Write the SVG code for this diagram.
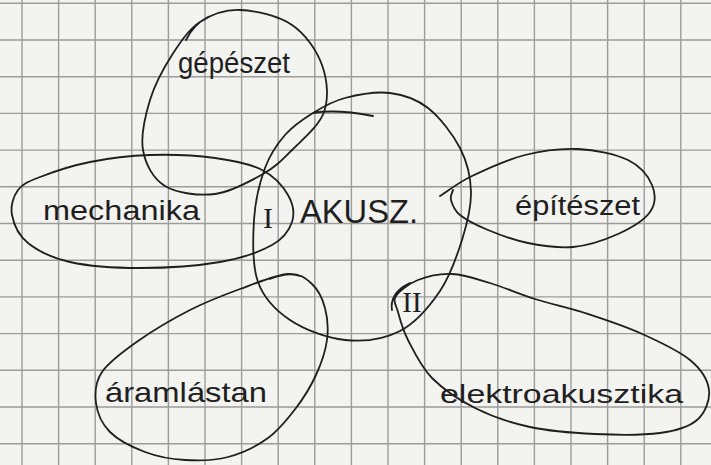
<svg xmlns="http://www.w3.org/2000/svg" width="711" height="465" viewBox="0 0 711 465">
<style>
.ink{fill:none;stroke:#1f1f1f;stroke-width:1.8;stroke-linecap:round;stroke-linejoin:round}
.grid{fill:none;stroke:#9c9c9a;stroke-width:1.4}
.hw{font-family:"Liberation Sans","DejaVu Sans",sans-serif;fill:#1f1f1f}
.rn{font-family:"Liberation Serif","DejaVu Serif",serif;fill:#1f1f1f;text-anchor:middle}
</style>
<rect x="0" y="0" width="711" height="465" fill="#f3f3f0"/>
<g id="grid">
<path class="grid" d="M22,0V465M58.6,0V465M95.2,0V465M131.8,0V465M168.4,0V465M205,0V465M241.6,0V465M278.2,0V465M314.8,0V465M351.4,0V465M388,0V465M424.6,0V465M461.2,0V465M497.8,0V465M534.4,0V465M571,0V465M607.6,0V465M644.2,0V465M680.8,0V465
M0,3.3H711M0,40H711M0,76.7H711M0,113.4H711M0,150.1H711M0,186.8H711M0,223.5H711M0,260.2H711M0,296.9H711M0,333.6H711M0,370.3H711M0,407H711M0,443.7H711"/>
</g>
<g id="node-gepeszet">
<path class="ink" d="M200,22 C211.3,14.5 224.7,9.5 240,10 C255.3,10.5 278.3,15.8 292,25 C305.7,34.2 316.7,50.5 322,65 C327.3,79.5 329,97.8 324,112 C319,126.2 302.2,139.7 292,150 C281.8,160.3 275.8,166.7 263,174 C250.2,181.3 231.3,192 215,194 C198.7,196 177,193.3 165,186 C153,178.7 145.5,164.3 143,150 C140.5,135.7 145.2,115.8 150,100 C154.8,84.2 163.7,68 172,55 C180.3,42 188.7,29.5 200,22 M186,40 C191,30 198,22 208,17"/>
<text class="hw" x="178" y="73" font-size="30" textLength="112" lengthAdjust="spacingAndGlyphs">gépészet</text>
</g>
<g id="node-mechanika">
<path class="ink" d="M40,177 C52,172.3 71.7,165.7 90,162 C108.3,158.3 129.2,155.7 150,155 C170.8,154.3 196.3,155.5 215,158 C233.7,160.5 249.8,163.8 262,170 C274.2,176.2 283,186.3 288,195 C293,203.7 294.7,213.7 292,222 C289.3,230.3 284,238.3 272,245 C260,251.7 242,258.2 220,262 C198,265.8 165,268 140,268 C115,268 88.7,266.2 70,262 C51.3,257.8 37.7,250.8 28,243 C18.3,235.2 13.7,223.8 12,215 C10.3,206.2 13.3,196.3 18,190 C22.7,183.7 28,181.7 40,177 Z"/>
<text class="hw" x="43" y="220" font-size="27" textLength="157" lengthAdjust="spacingAndGlyphs">mechanika</text>
</g>
<g id="node-akusz">
<path class="ink" d="M313,113 C303,119.2 293,125.8 285,135 C277,144.2 270.2,153.8 265,168 C259.8,182.2 255.2,201 254,220 C252.8,239 252,265.3 258,282 C264,298.7 275.5,310.3 290,320 C304.5,329.7 326.7,338.2 345,340 C363.3,341.8 384.2,339.2 400,331 C415.8,322.8 429.7,306.2 440,291 C450.3,275.8 456.8,256.5 462,240 C467.2,223.5 471.3,207.3 471,192 C470.7,176.7 467.2,162 460,148 C452.8,134 439.7,117.2 428,108 C416.3,98.8 403.8,94.7 390,93 C376.2,91.3 357.8,94.7 345,98 C332.2,101.3 323,106.8 313,113 M313,113 C330,110 352,112 373,116"/>
<text class="hw" x="300" y="223" font-size="33" textLength="118" lengthAdjust="spacingAndGlyphs">AKUSZ.</text>
<text class="rn" x="268" y="228" font-size="30">I</text>
<text class="rn" x="412" y="312" font-size="29">II</text>
</g>
<g id="node-epiteszet">
<path class="ink" d="M440,196 C445.3,192.7 457.8,182.8 472,176 C486.2,169.2 507.3,159.5 525,155 C542.7,150.5 560.8,148.2 578,149 C595.2,149.8 615.7,154 628,160 C640.3,166 648.3,176.3 652,185 C655.7,193.7 655.7,203.8 650,212 C644.3,220.2 630.8,228.2 618,234 C605.2,239.8 588,245.5 573,247 C558,248.5 542.2,245.8 528,243 C513.8,240.2 499.3,234.7 488,230 C476.7,225.3 466.2,220 460,215 C453.8,210 452.2,204.2 451,200 C449.8,195.8 452.7,191.7 453,190"/>
<text class="hw" x="515" y="215" font-size="27" textLength="125" lengthAdjust="spacingAndGlyphs">építészet</text>
</g>
<g id="node-aramlastan">
<path class="ink" d="M288,274 C300,273.2 305.8,278.3 312,284 C318.2,289.7 322.5,298.7 325,308 C327.5,317.3 328.5,328.8 327,340 C325.5,351.2 321.2,363.7 316,375 C310.8,386.3 304,397.5 296,408 C288,418.5 279.3,429.8 268,438 C256.7,446.2 241.8,453.3 228,457 C214.2,460.7 198.8,460.8 185,460 C171.2,459.2 157.5,456.7 145,452 C132.5,447.3 118.2,440.2 110,432 C101.8,423.8 97.3,413 96,403 C94.7,393 95,382.3 102,372 C109,361.7 123.3,351.3 138,341 C152.7,330.7 173,318.7 190,310 C207,301.3 223.7,295 240,289 C256.3,283 276,274.8 288,274 M270,279 C280,275 292,273 300,276"/>
<text class="hw" x="105" y="402" font-size="28" textLength="162" lengthAdjust="spacingAndGlyphs">áramlástan</text>
</g>
<g id="node-elektroakusztika">
<path class="ink" d="M396,296 C399.3,290.7 408.7,283.7 418,280 C427.3,276.3 440,273.5 452,274 C464,274.5 476.2,278.8 490,283 C503.8,287.2 519.2,294 535,299 C550.8,304 567.5,307.3 585,313 C602.5,318.7 622.5,325.2 640,333 C657.5,340.8 678.5,350.5 690,360 C701.5,369.5 707.8,380 709,390 C710.2,400 705.2,412.8 697,420 C688.8,427.2 677,430.7 660,433 C643,435.3 616.7,435 595,434 C573.3,433 550,431.3 530,427 C510,422.7 491.3,416.2 475,408 C458.7,399.8 443.2,389.3 432,378 C420.8,366.7 413.7,351 408,340 C402.3,329 400,319.3 398,312 C396,304.7 392.7,301.3 396,296 M392,310 C390,298 398,288 410,283"/>
<text class="hw" x="440" y="403" font-size="26" textLength="243" lengthAdjust="spacingAndGlyphs">elektroakusztika</text>
</g>
<g id="connectors"/>
</svg>
